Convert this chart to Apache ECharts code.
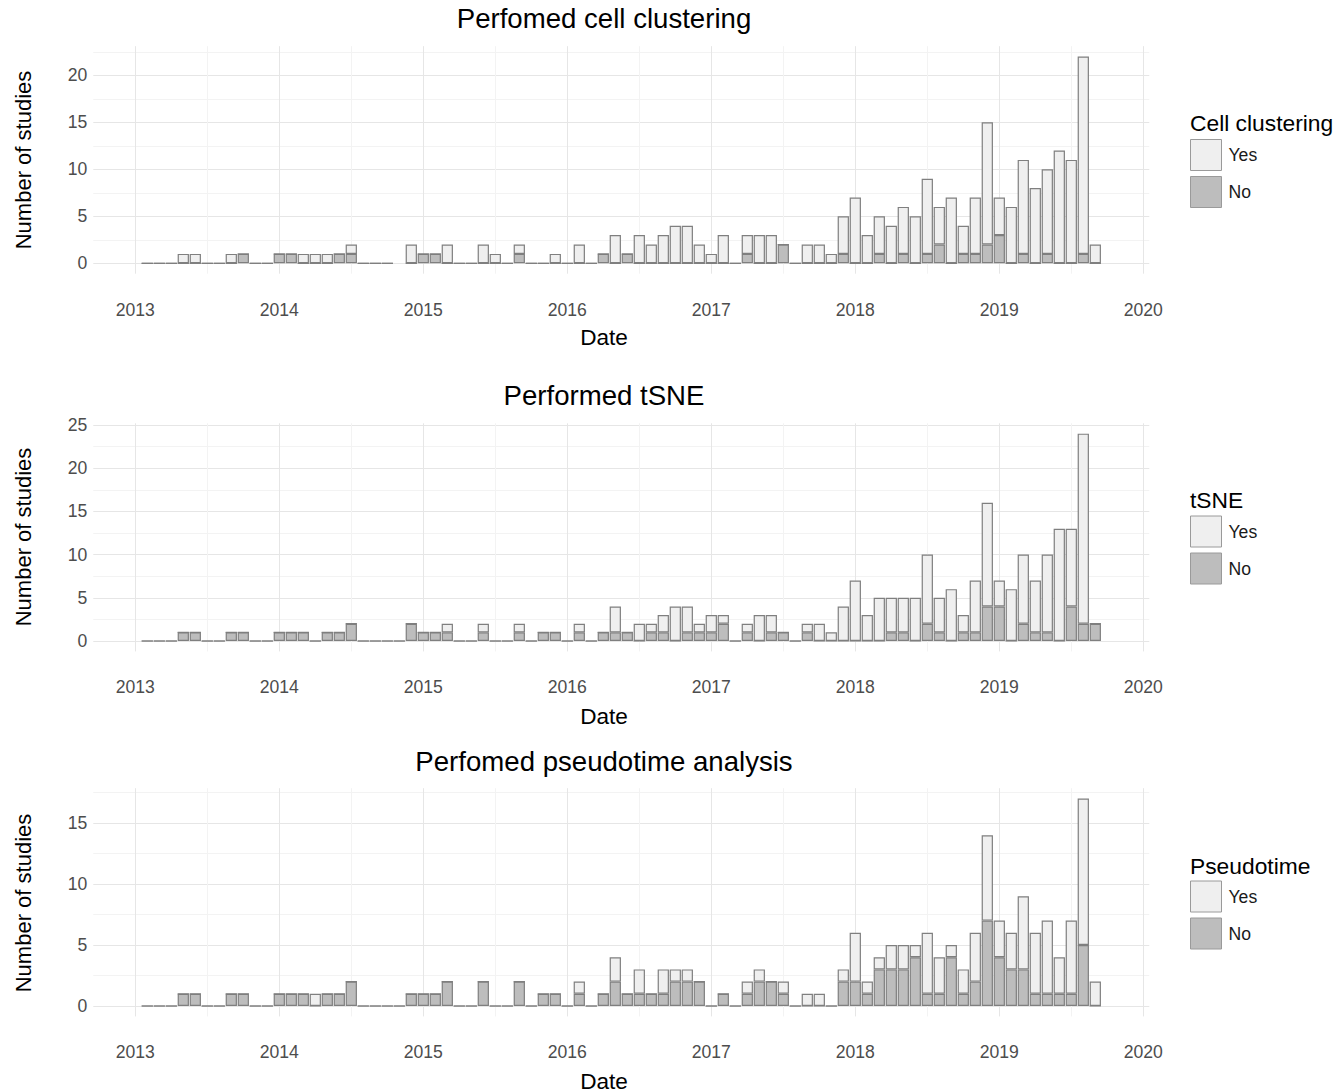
<!DOCTYPE html>
<html><head><meta charset="utf-8">
<script src="https://cdn.jsdelivr.net/npm/echarts@6/dist/echarts.min.js"></script>
<style>html,body{margin:0;padding:0;background:#fff}#c{width:1339px;height:1092px}</style>
</head><body><div id="c"></div>
<script>
// ---------- DATA ----------
// monthly bins, Feb 2013 .. Sep 2019 (80 months)
const firstMonth = [2013, 2]; // year, month
const nMonths = 80;
const months = [];
for (let i = 0; i < nMonths; i++) {
  const t = (firstMonth[0] * 12 + firstMonth[1] - 1) + i;
  months.push(Math.floor(t / 12) + '-' + String(t % 12 + 1).padStart(2, '0'));
}
const yearTicks = ['2013', '2014', '2015', '2016', '2017', '2018', '2019', '2020'];

const clusterYes = [0,0,0,1,1,0,0,1,0,0, 0,0,0,1,1,1,0,1,0,0, 0,null,2,0,0,2,0,0,2,1, 0,1,0,0,1,0,2,0,0,3,
                    0,3,2,3,4,4,2,1,3,0, 2,3,3,0,0,2,2,1,4,7, 3,4,4,5,5,8,4,7,3,6, 13,4,6,10,8,9,12,11,21,2];
const clusterNo  = [0,0,0,0,0,0,0,0,1,0, 0,1,1,0,0,0,1,1,0,0, 0,null,0,1,1,0,0,0,0,0, 0,1,0,0,0,0,0,0,1,0,
                    1,0,0,0,0,0,0,0,0,0, 1,0,0,2,0,0,0,0,1,0, 0,1,0,1,0,1,2,0,1,1, 2,3,0,1,0,1,0,0,1,0];

const tsneYes = [0,0,0,0,0,0,0,0,0,0, 0,0,0,0,0,0,0,0,0,0, 0,0,0,0,0,1,0,0,1,0, 0,1,0,0,0,0,1,0,0,3,
                 0,2,1,2,4,3,1,2,1,0, 1,3,2,0,0,1,2,1,4,7, 3,5,4,4,5,8,4,6,2,6, 12,3,6,8,6,9,13,9,22,0];
const tsneNo  = [0,0,0,1,1,0,0,1,1,0, 0,1,1,1,0,1,1,2,0,0, 0,0,2,1,1,1,0,0,1,0, 0,1,0,1,1,0,1,0,1,1,
                 1,0,1,1,0,1,1,1,2,0, 1,0,1,1,0,1,0,0,0,0, 0,0,1,1,0,2,1,0,1,1, 4,4,0,2,1,1,0,4,2,2];

const pseudoYes = [0,0,0,0,0,0,0,0,0,0, 0,0,0,0,1,0,0,0,0,0, 0,0,0,0,0,0,0,0,0,0, 0,0,0,0,0,0,1,0,0,2,
                   0,2,0,2,1,1,0,0,0,0, 1,1,0,1,0,1,1,0,1,4, 1,1,2,2,1,5,3,1,2,4, 7,3,3,6,5,6,3,6,12,2];
const pseudoNo  = [0,0,0,1,1,0,0,1,1,0, 0,1,1,1,0,1,1,2,0,0, 0,0,1,1,1,2,0,0,2,0, 0,2,0,1,1,0,1,0,1,2,
                   1,1,1,1,2,2,2,0,1,0, 1,2,2,1,0,0,0,0,2,2, 1,3,3,3,4,1,1,4,1,2, 7,4,3,3,1,1,1,1,5,0];

const panelTitles  = ['Perfomed cell clustering', 'Performed tSNE', 'Perfomed pseudotime analysis'];
const legendTitles = ['Cell clustering', 'tSNE', 'Pseudotime'];
const seriesYes = [clusterYes, tsneYes, pseudoYes];
const seriesNo  = [clusterNo, tsneNo, pseudoNo];
const yMaxes = [23.1, 25.2, 17.85];

// ---------- LAYOUT ----------
const W = 1339, H = 1092;
const padBefore = 4, padAfter = 4; // empty month slots on each side (axis expansion)
const gridLeft = 93.3, gridRightEdge = 1149.3;
const layout = [
  {top: 46.2,  base: 263.3, bottom: 273.7, titleY: 18,  dateY: 337,  yNameY: 160, legTitleY: 123, legTop: 139},
  {top: 423.3, base: 641.0, bottom: 651.4, titleY: 395, dateY: 716,  yNameY: 537, legTitleY: 500, legTop: 515.5},
  {top: 788.2, base: 1006,  bottom: 1016.4, titleY: 761, dateY: 1081, yNameY: 903, legTitleY: 866, legTop: 880.5}
];
const FONT = "'Liberation Sans', Arial, Helvetica, sans-serif";
const YES_FILL = '#efefef', NO_FILL = '#bdbdbd', BORDER = '#7f7f7f';
const MAJOR = '#e6e6e6', MINOR = '#f3f3f3';

// full month category axis (with padding slots)
const start = firstMonth[0] * 12 + firstMonth[1] - 1 - padBefore;
const monthCats = [];
for (let i = 0; i < nMonths + padBefore + padAfter; i++) {
  const t = start + i;
  monthCats.push(Math.floor(t / 12) + '-' + String(t % 12 + 1).padStart(2, '0'));
}
// half-month point axis used for year grid lines / labels (months since Jan 2013)
const m0 = start - 2013 * 12 - 0.5;
const halfPts = [];
for (let v = m0; v <= m0 + monthCats.length + 1e-9; v += 0.5) halfPts.push(String(v));

const grids = [], xAxes = [], yAxes = [], series = [], legends = [], graphics = [];
layout.forEach((L, k) => {
  grids.push({left: gridLeft, right: W - gridRightEdge, top: L.top, bottom: H - L.bottom});
  grids.push({left: gridLeft, right: W - gridRightEdge, top: L.top, bottom: H - L.base});
  // background axis: years
  xAxes.push({
    gridIndex: 2 * k, type: 'category', boundaryGap: false, data: halfPts,
    axisLine: {show: false}, axisTick: {show: false},
    axisLabel: {
      interval: (i, v) => Math.abs(parseFloat(v) % 12) < 1e-9,
      formatter: v => yearTicks[Math.round(parseFloat(v) / 12)] || '',
      color: '#4d4d4d', fontSize: 17.6, fontFamily: FONT, margin: 27
    },
    splitLine: {
      show: true,
      interval: (i, v) => Math.abs(parseFloat(v) % 6) < 1e-9,
      lineStyle: {color: [MAJOR, MINOR], width: 1}
    }
  });
  yAxes.push({gridIndex: 2 * k, type: 'value', min: 0, max: 1, show: false});
  // bar axes
  xAxes.push({gridIndex: 2 * k + 1, type: 'category', data: monthCats, show: false, boundaryGap: true});
  yAxes.push({
    gridIndex: 2 * k + 1, type: 'value', min: 0, max: yMaxes[k], interval: 2.5,
    axisLine: {show: false}, axisTick: {show: false},
    axisLabel: {
      formatter: v => (Math.abs(v % 5) < 1e-9 ? String(v) : ''),
      showMaxLabel: false, color: '#4d4d4d', fontSize: 17.6, fontFamily: FONT, margin: 6
    },
    splitLine: {show: true, showMaxLine: false, lineStyle: {color: [MAJOR, MINOR], width: 1}}
  });
  const toData = arr => monthCats.map(c => { const i = months.indexOf(c); return i >= 0 ? arr[i] : null; });
  const common = {type: 'bar', stack: 'p' + k, xAxisIndex: 2 * k + 1, yAxisIndex: 2 * k + 1,
                  barWidth: '94%', animation: false, silent: true};
  series.push(Object.assign({}, common, {name: 'No', data: toData(seriesNo[k]),
    itemStyle: {color: NO_FILL, borderColor: BORDER, borderWidth: 1.2}}));
  series.push(Object.assign({}, common, {name: 'Yes', data: toData(seriesYes[k]),
    itemStyle: {color: YES_FILL, borderColor: BORDER, borderWidth: 1.2}}));
  legends.push({
    orient: 'vertical', left: 1190, top: L.legTop, padding: 0, itemWidth: 31, itemHeight: 31, itemGap: 5,
    icon: 'rect', selectedMode: false,
    data: [
      {name: 'Yes', itemStyle: {color: YES_FILL, borderColor: '#9a9a9a', borderWidth: 1}},
      {name: 'No', itemStyle: {color: NO_FILL, borderColor: '#9a9a9a', borderWidth: 1}}
    ],
    textStyle: {fontSize: 17.6, color: '#1a1a1a', fontFamily: FONT, padding: [0, 0, 0, 2]}
  });
  const txt = (text, x, y, size, opts) => Object.assign({
    type: 'text', x: x, y: y, silent: true,
    style: {text: text, fontSize: size, fontFamily: FONT, fill: '#000',
            textAlign: 'center', textVerticalAlign: 'middle'}
  }, opts || {});
  graphics.push(txt(panelTitles[k], 604, L.titleY, 27.6));
  graphics.push(txt('Date', 604, L.dateY, 22.6));
  graphics.push(txt('Number of studies', 23, L.yNameY, 22, {rotation: Math.PI / 2}));
  graphics.push({type: 'text', x: 1190, y: L.legTitleY, silent: true,
    style: {text: legendTitles[k], fontSize: 22.8, fontFamily: FONT, fill: '#000',
            textAlign: 'left', textVerticalAlign: 'middle'}});
});

const chart = echarts.init(document.getElementById('c'), null, {renderer: 'svg'});
chart.setOption({
  animation: false,
  backgroundColor: '#ffffff',
  grid: grids, xAxis: xAxes, yAxis: yAxes, series: series, legend: legends, graphic: graphics
});
</script>
</body></html>
